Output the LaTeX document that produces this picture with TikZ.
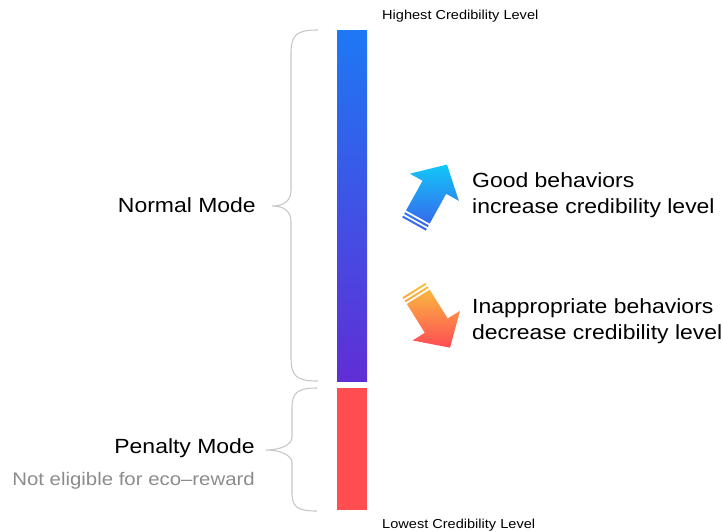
\documentclass[tikz,border=0pt]{standalone}
\usepackage{fontspec}
\setmainfont{Liberation Sans}[FakeStretch=1.12]
\usetikzlibrary{calc}
\definecolor{barTop}{HTML}{1E78F5}
\definecolor{barBot}{HTML}{602ED5}
\definecolor{penRed}{HTML}{FF4D50}
\definecolor{braceGray}{HTML}{C8C8C8}
\definecolor{noteGray}{HTML}{8C8C8C}
\definecolor{upTip}{HTML}{12C7F8}
\definecolor{upTail}{HTML}{3B5EEB}
\definecolor{dnTail}{HTML}{F9C43C}
\definecolor{dnMid}{HTML}{FF5A4E}
\definecolor{dnTip}{HTML}{FF4B55}
\newcommand\credArrow[3]{%
 \shade[#3]
  ($(#1)+(#2+90:13.5)$) -- ($(#1)+(#2-90:13.5)$) -- ($(#1)+(#2-90:13.5)+(#2:2)$) -- ($(#1)+(#2+90:13.5)+(#2:2)$) -- cycle
  ($(#1)+(#2+90:13.5)+(#2:4)$) -- ($(#1)+(#2-90:13.5)+(#2:4)$) -- ($(#1)+(#2-90:13.5)+(#2:6)$) -- ($(#1)+(#2+90:13.5)+(#2:6)$) -- cycle
  ($(#1)+(#2+90:13.5)+(#2:8)$) -- ($(#1)+(#2+90:13.5)+(#2:42)$) -- ($(#1)+(#2+90:28)+(#2:42)$) -- ($(#1)+(#2:68)$)
  -- ($(#1)+(#2-90:28)+(#2:42)$) -- ($(#1)+(#2-90:13.5)+(#2:42)$) -- ($(#1)+(#2-90:13.5)+(#2:8)$) -- cycle;}
\tikzset{
  bigtext/.style={font=\fontsize{20.5}{24}\selectfont, inner sep=0pt},
  notetext/.style={font=\fontsize{18.2}{22}\selectfont, inner sep=0pt, text=noteGray},
  smalltext/.style={font=\fontsize{13}{15}\selectfont, inner sep=0pt},
  bracestyle/.style={draw=braceGray, line width=1.1pt}
}
\begin{document}
\begin{tikzpicture}[x=1pt,y=-1pt]
\useasboundingbox (0,0) rectangle (723,531);
% bars
\shade[top color=barTop, bottom color=barBot] (337,30) rectangle (367,381);
\fill[penRed] (337,388) rectangle (367,510);
% braces
\draw[bracestyle] (318,30) .. controls (296,30) and (291,35) .. (291,54) -- (291,190)
  .. controls (291,200) and (285,206) .. (272,206) .. controls (285,206) and (291,212) .. (291,222)
  -- (291,357) .. controls (291,376) and (296,381) .. (318,381);
\draw[bracestyle] (317,388) .. controls (297,388) and (292,393) .. (292,408) -- (292,437)
  .. controls (292,445) and (280,450) .. (266,450) .. controls (280,450) and (292,455) .. (292,463)
  -- (292,492) .. controls (292,507) and (297,511) .. (317,511);
% arrows
\coordinate (upT) at (414,224);
\coordinate (dnT) at (414,290);
\credArrow{upT}{-61}{top color=upTip, bottom color=upTail}
\credArrow{dnT}{58}{top color=dnTail, middle color=dnMid, bottom color=dnTip}
% labels
\node[smalltext, anchor=base west] (hi) at (382,19) {Highest Credibility Level};
\node[smalltext, anchor=base west] (lo) at (382,528) {Lowest Credibility Level};
\node[bigtext, anchor=base east] (normal) at (256,212) {Normal Mode};
\node[bigtext, anchor=base east] (penalty) at (255,453) {Penalty Mode};
\node[notetext, anchor=base east] (note) at (255,485) {Not eligible for eco–reward};
\node[bigtext, anchor=base west] (good1) at (472,187) {Good behaviors};
\node[bigtext, anchor=base west] (good2) at (472,213) {increase credibility level};
\node[bigtext, anchor=base west] (bad1) at (472,313) {Inappropriate behaviors};
\node[bigtext, anchor=base west] (bad2) at (472,339) {decrease credibility level};
\end{tikzpicture}
\end{document}
